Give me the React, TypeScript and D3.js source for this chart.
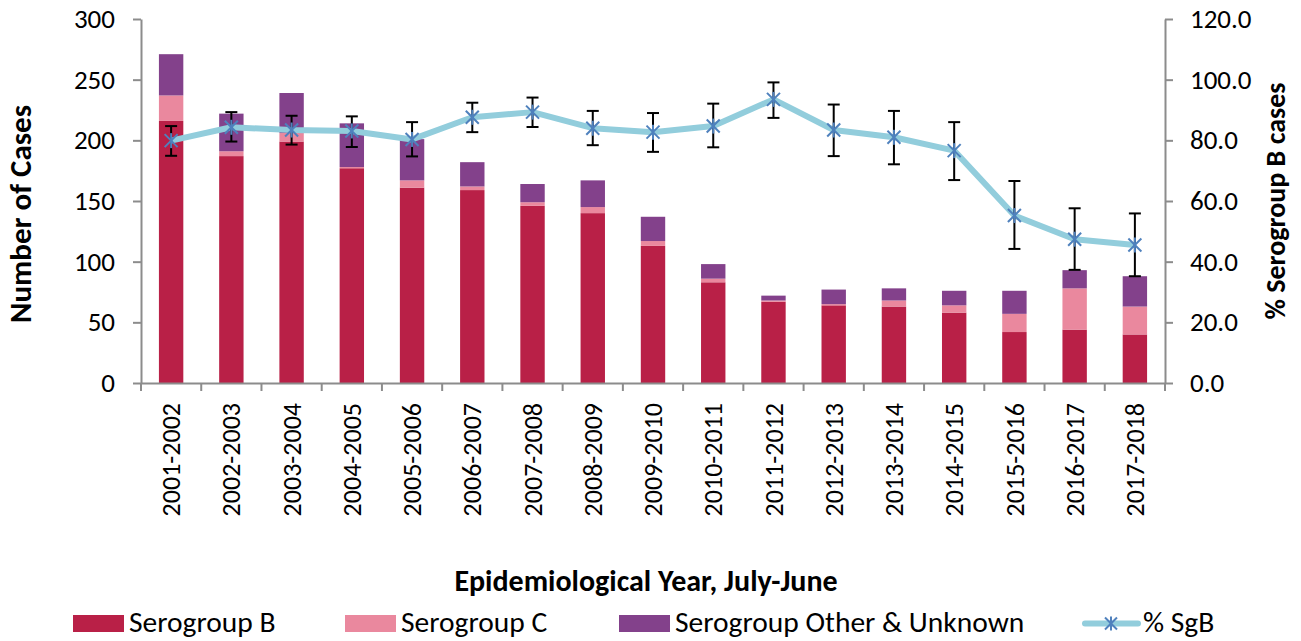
import React, { useEffect, useRef } from "react";
import * as d3 from "d3";

// Epidemiological years (July–June)
const years = [
  "2001-2002", "2002-2003", "2003-2004", "2004-2005", "2005-2006", "2006-2007",
  "2007-2008", "2008-2009", "2009-2010", "2010-2011", "2011-2012", "2012-2013",
  "2013-2014", "2014-2015", "2015-2016", "2016-2017", "2017-2018",
];

// Case counts by serogroup
const serogroupB = [216, 187, 199, 177, 161, 159, 146, 140, 113, 83, 67, 64, 63, 58, 42, 44, 40];
const serogroupC = [21, 4, 7, 1, 6, 3, 3, 5, 4, 3, 1, 1, 5, 6, 15, 34, 23];
const serogroupOther = [34, 31, 33, 36, 34, 20, 15, 22, 20, 12, 4, 12, 10, 12, 19, 15, 25];

// Percentage of serogroup B cases with confidence interval
const pctSgB = [79.9, 84.3, 83.4, 83.1, 80.3, 87.6, 89.3, 84.0, 82.7, 84.7, 93.5, 83.4, 81.0, 76.6, 55.2, 47.4, 45.5];
const pctLow = [74.9, 79.6, 78.6, 77.8, 74.7, 82.7, 84.4, 78.4, 76.2, 77.7, 87.4, 74.8, 72.1, 66.9, 44.2, 37.3, 35.2];
const pctHigh = [84.7, 89.3, 88.1, 87.9, 86.0, 92.4, 94.1, 89.7, 89.0, 92.1, 99.1, 91.8, 89.7, 86.0, 66.6, 57.6, 55.9];

const countTicks = [0, 50, 100, 150, 200, 250, 300];
const pctTicks = [0, 20, 40, 60, 80, 100, 120];

const seriesNames = ["Serogroup B", "Serogroup C", "Serogroup Other & Unknown"];
const seriesColors = ["#B92047", "#EA889E", "#83418B"];
const lineColor = "#92CDDC";
const markerColor = "#4F81BD";
const axisColor = "#8C8C8C";
const FONT = "Carlito, Calibri, Lato, sans-serif";

const W = 1301;
const H = 641;
const left = 141;
const right = 1165;
const top = 19;
const bottom = 383;

export default function App() {
  const leftAxisRef = useRef<SVGGElement>(null);
  const rightAxisRef = useRef<SVGGElement>(null);
  const xAxisRef = useRef<SVGGElement>(null);

  const x = d3.scaleBand<string>().domain(years).range([left, right]).paddingInner(0).paddingOuter(0);
  const yCount = d3.scaleLinear().domain([0, 300]).range([bottom, top]);
  const yPct = d3.scaleLinear().domain([0, 120]).range([bottom, top]);
  const barW = x.bandwidth() * 0.405;

  const rows = years.map((year, i) => ({
    year,
    b: serogroupB[i],
    c: serogroupC[i],
    o: serogroupOther[i],
  }));
  const stack = d3.stack<any>().keys(["b", "c", "o"])(rows);

  const cx = (i: number) => (x(years[i]) as number) + x.bandwidth() / 2;
  const line = d3
    .line<number>()
    .x((_, i) => cx(i))
    .y((d) => yPct(d));

  useEffect(() => {
    const styleAxis = (g: d3.Selection<SVGGElement, unknown, null, undefined>, size: number) => {
      g.select(".domain").attr("stroke", axisColor).attr("stroke-width", 2);
      g.selectAll(".tick line").attr("stroke", axisColor).attr("stroke-width", 2);
      g.selectAll(".tick text")
        .attr("fill", "#000")
        .style("font-family", FONT)
        .style("font-size", `${size}px`);
    };

    const gl = d3.select(leftAxisRef.current!);
    gl.call(
      d3.axisLeft(yCount).tickValues(countTicks).tickSize(8).tickSizeOuter(0).tickPadding(18).tickFormat(d3.format("d"))
    );
    styleAxis(gl, 27);

    const gr = d3.select(rightAxisRef.current!);
    gr.call(
      d3.axisRight(yPct).tickValues(pctTicks).tickSize(8).tickSizeOuter(0).tickPadding(17).tickFormat(d3.format(".1f"))
    );
    styleAxis(gr, 27);

    const gx = d3.select(xAxisRef.current!);
    gx.call(d3.axisBottom(x).tickSize(0).tickSizeOuter(0));
    styleAxis(gx, 26);
    gx.selectAll(".tick text")
      .attr("transform", "rotate(-90)")
      .attr("x", -20)
      .attr("y", 0)
      .attr("dy", "0.35em")
      .style("text-anchor", "end");
    // boundary ticks between categories
    gx.selectAll(".bound").remove();
    gx.selectAll(".bound")
      .data(d3.range(years.length + 1))
      .enter()
      .append("line")
      .attr("class", "bound")
      .attr("x1", (i) => left + i * x.step())
      .attr("x2", (i) => left + i * x.step())
      .attr("y1", 0)
      .attr("y2", 8)
      .attr("stroke", axisColor)
      .attr("stroke-width", 2);
  }, []);

  const legendItems = [
    { x: 73, text: seriesNames[0], color: seriesColors[0] },
    { x: 345, text: seriesNames[1], color: seriesColors[1] },
    { x: 619, text: seriesNames[2], color: seriesColors[2] },
  ];

  const asterisk = (px: number, py: number, r: number, key?: string | number) => (
    <g key={key} stroke={markerColor} strokeWidth={2}>
      <line x1={px - r} y1={py - r} x2={px + r} y2={py + r} />
      <line x1={px - r} y1={py + r} x2={px + r} y2={py - r} />
      <line x1={px} y1={py - r - 1} x2={px} y2={py + r + 1} />
    </g>
  );

  return (
    <svg
      width={W}
      height={H}
      style={{ position: "absolute", left: 0, top: 0, background: "#fff", fontFamily: FONT }}
    >
      {/* stacked bars */}
      {stack.map((layer, li) => (
        <g key={li} fill={seriesColors[li]}>
          {layer.map((d, i) => (
            <rect
              key={i}
              x={cx(i) - barW / 2}
              y={yCount(d[1])}
              width={barW}
              height={yCount(d[0]) - yCount(d[1])}
            />
          ))}
        </g>
      ))}

      {/* axes */}
      <g ref={xAxisRef} transform={`translate(0,${bottom})`} />
      <g ref={leftAxisRef} transform={`translate(${left},0)`} />
      <g ref={rightAxisRef} transform={`translate(${right},0)`} />

      {/* % SgB line */}
      <path d={line(pctSgB) || ""} fill="none" stroke={lineColor} strokeWidth={6} strokeLinejoin="round" />

      {/* error bars */}
      <g stroke="#000" strokeWidth={2}>
        {pctSgB.map((_, i) => (
          <g key={i}>
            <line x1={cx(i)} x2={cx(i)} y1={yPct(pctHigh[i])} y2={yPct(pctLow[i])} />
            <line x1={cx(i) - 6} x2={cx(i) + 6} y1={yPct(pctHigh[i])} y2={yPct(pctHigh[i])} />
            <line x1={cx(i) - 6} x2={cx(i) + 6} y1={yPct(pctLow[i])} y2={yPct(pctLow[i])} />
          </g>
        ))}
      </g>

      {/* markers */}
      {pctSgB.map((v, i) => asterisk(cx(i), yPct(v), 6.5, i))}

      {/* axis titles */}
      <text
        transform={`translate(31,214) rotate(-90)`}
        textAnchor="middle"
        fontWeight="bold"
        fontSize={31}
      >
        Number of Cases
      </text>
      <text
        transform={`translate(1285,201) rotate(-90)`}
        textAnchor="middle"
        fontWeight="bold"
        fontSize={28}
      >
        % Serogroup B cases
      </text>
      <text x={646} y={591} textAnchor="middle" fontWeight="bold" fontSize={30}>
        Epidemiological Year, July-June
      </text>

      {/* legend */}
      {legendItems.map((it) => (
        <g key={it.text}>
          <rect x={it.x} y={615} width={51} height={17} fill={it.color} />
          <text x={it.x + 56} y={632} fontSize={29.5}>
            {it.text}
          </text>
        </g>
      ))}
      <line x1={1085} x2={1138} y1={623.5} y2={623.5} stroke={lineColor} strokeWidth={6} strokeLinecap="round" />
      {asterisk(1111, 623.5, 6)}
      <text x={1143} y={632} fontSize={29.5}>
        % SgB
      </text>
    </svg>
  );
}
